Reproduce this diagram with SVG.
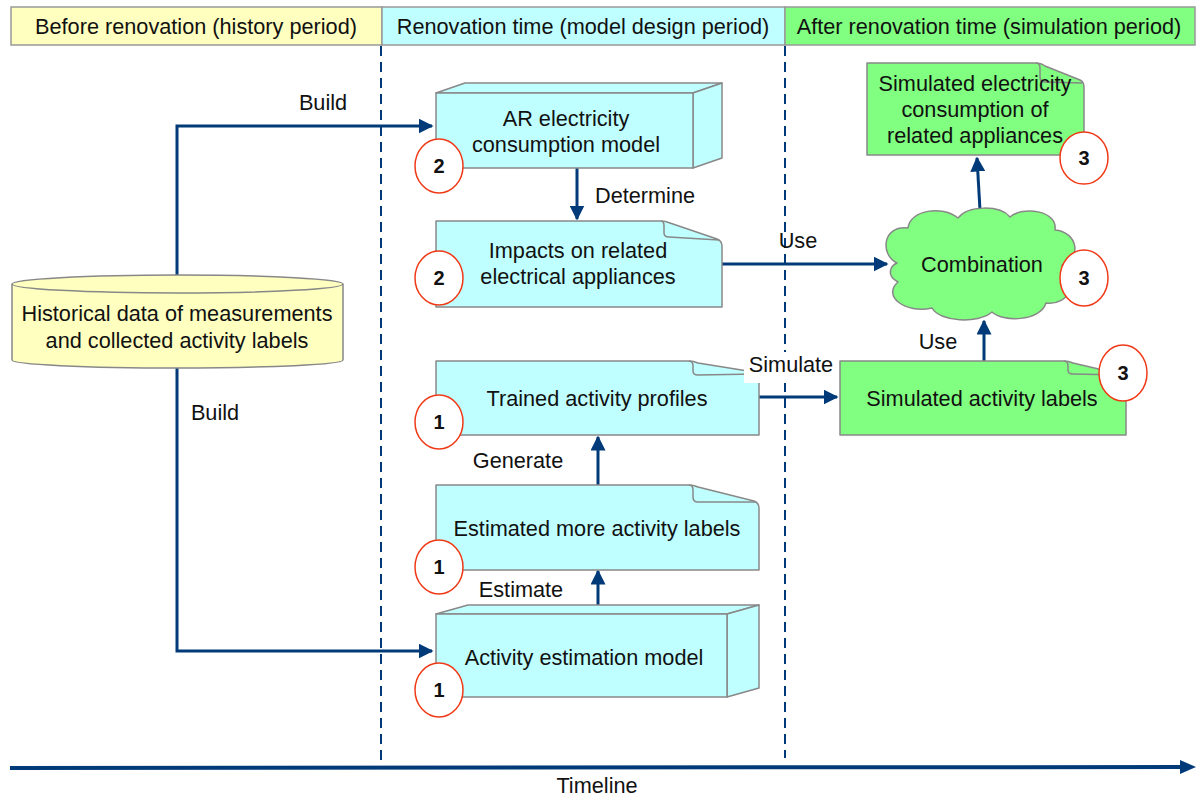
<svg xmlns="http://www.w3.org/2000/svg" width="1198" height="796" viewBox="0 0 1198 796">
<style>
text{font-family:"Liberation Sans",Arial,sans-serif;font-size:21.7px;fill:#111;}
.c{text-anchor:middle;}
.num{font-weight:bold;text-anchor:middle;font-size:20px;}
.hdr{stroke:#999;stroke-width:1.5;}
.node{fill:#c0ffff;stroke:#888;stroke-width:1.5;stroke-linejoin:round;}
.gnode{fill:#80ff80;stroke:#888;stroke-width:1.5;stroke-linejoin:round;}
.fold{fill:none;stroke:#888;stroke-width:1.5;}
.badge{fill:#fff;stroke:#f03a17;stroke-width:1.5;}
.conn{fill:none;stroke:#003a78;stroke-width:3;}
.dash{fill:none;stroke:#003a78;stroke-width:2;stroke-dasharray:10,6;}
</style>
<defs>
<marker id="ah" viewBox="0 0 10 10" refX="9" refY="5" markerWidth="5" markerHeight="5" markerUnits="strokeWidth" orient="auto">
<path d="M0,0 L10,5 L0,10 Z" fill="#003a78"/>
</marker>
</defs>
<rect width="1198" height="796" fill="#fff"/>

<g id="headers">
<rect class="hdr" x="11" y="7" width="371" height="38" fill="#ffffc0"/>
<rect class="hdr" x="382" y="7" width="403" height="38" fill="#c0ffff"/>
<rect class="hdr" x="785" y="7" width="410" height="38" fill="#80ff80"/>
<text class="c" x="196" y="33.5">Before renovation (history period)</text>
<text class="c" x="583" y="33.5">Renovation time (model design period)</text>
<text class="c" x="989" y="33.5">After renovation time (simulation period)</text>
</g>

<g id="dividers">
<line class="dash" x1="381" y1="46" x2="381" y2="768"/>
<line class="dash" x1="785" y1="46" x2="785" y2="758"/>
</g>

<g id="connectors">
<polyline class="conn" points="177,275 177,126 432,126" marker-end="url(#ah)"/>
<polyline class="conn" points="177,367 177,651 432,651" marker-end="url(#ah)"/>
<line class="conn" x1="577" y1="168" x2="577" y2="219" marker-end="url(#ah)"/>
<line class="conn" x1="722" y1="264" x2="887" y2="264" marker-end="url(#ah)"/>
<line class="conn" x1="759" y1="397" x2="837" y2="397" marker-end="url(#ah)"/>
<line class="conn" x1="598" y1="485" x2="598" y2="437" marker-end="url(#ah)"/>
<line class="conn" x1="598" y1="605" x2="598" y2="571" marker-end="url(#ah)"/>
<line class="conn" x1="984" y1="361" x2="984" y2="321" marker-end="url(#ah)"/>
<line class="conn" x1="980" y1="210" x2="977" y2="158" marker-end="url(#ah)"/>
<line x1="10" y1="768" x2="1182" y2="767" stroke="#003a78" stroke-width="4"/>
<path d="M1180,760 L1196,767 L1180,774 Z" fill="#003a78"/>
<text x="323" y="110" class="c">Build</text>
<text x="215" y="420" class="c">Build</text>
<text x="645" y="203" class="c">Determine</text>
<text x="798" y="248" class="c">Use</text>
<text x="518" y="468" class="c">Generate</text>
<text x="521" y="597" class="c">Estimate</text>
<text x="938" y="349" class="c">Use</text>
<text x="597" y="793" class="c">Timeline</text>
</g>

<g id="historical">
<path d="M12,284 L12,360 A165.5,8 0 0 0 343,360 L343,284" fill="#ffffc0" stroke="#888" stroke-width="1.5"/>
<ellipse cx="177.5" cy="284" rx="165.5" ry="9" fill="#ffffc0" stroke="#888" stroke-width="1.5"/>
<text class="c" x="177" y="320.5">Historical data of measurements</text>
<text class="c" x="177" y="347.5">and collected activity labels</text>
</g>

<g id="ar-model">
<path class="node" d="M436,93 L465,83 L722,83 L693,93 Z"/>
<path class="node" d="M693,93 L722,83 L722,158 L693,168 Z"/>
<rect class="node" x="436" y="93" width="257" height="75"/>
<text class="c" x="566" y="125.5">AR electricity</text>
<text class="c" x="566" y="151.5">consumption model</text>
<ellipse class="badge" cx="439" cy="166" rx="24" ry="27"/>
<text class="num" x="439" y="173">2</text>
</g>

<g id="impacts">
<path class="node" d="M436,221 L660,221 Q666,221 670,223 L717,239 Q722,241 722,246 L722,307 L436,307 Z"/>
<path class="fold" d="M661,221 Q664,221 664,226 L664,233 Q664,237 669,237 L719,240"/>
<text class="c" x="578" y="257.5">Impacts on related</text>
<text class="c" x="578" y="283.5">electrical appliances</text>
<ellipse class="badge" cx="439" cy="278" rx="24" ry="27"/>
<text class="num" x="439" y="285">2</text>
</g>

<g id="trained">
<path class="node" d="M436,361 L688,361 Q694,361 698,363 L754,372 Q759,374 759,379 L759,435 L436,435 Z"/>
<path class="fold" d="M689,361 Q693,361 693,366 L693,371 Q693,375 698,375 L756,374"/>
<text class="c" x="597" y="405.5">Trained activity profiles</text>
<ellipse class="badge" cx="439" cy="422" rx="24" ry="27"/>
<text class="num" x="439" y="429">1</text>
</g>

<g id="simulate-label">
<rect x="744" y="352" width="94" height="31" fill="#fff"/>
<text class="c" x="791" y="372">Simulate</text>
</g>

<g id="estimated">
<path class="node" d="M436,485 L688,485 Q694,485 698,487 L754,501 Q759,503 759,508 L759,570 L436,570 Z"/>
<path class="fold" d="M689,485 Q693,485 693,490 L693,497 Q693,502 698,502 L756,502"/>
<text class="c" x="597" y="535.5">Estimated more activity labels</text>
<ellipse class="badge" cx="439" cy="567" rx="24" ry="27"/>
<text class="num" x="439" y="574">1</text>
</g>

<g id="activity-model">
<path class="node" d="M436,614 L468,605 L759,605 L727,614 Z"/>
<path class="node" d="M727,614 L759,605 L759,688 L727,697 Z"/>
<rect class="node" x="436" y="614" width="291" height="83"/>
<text class="c" x="584" y="664.5">Activity estimation model</text>
<ellipse class="badge" cx="439" cy="690" rx="24" ry="27"/>
<text class="num" x="439" y="697">1</text>
</g>

<g id="sim-consumption">
<path class="gnode" d="M867,63 L1035,63 Q1041,63 1045,66 L1080,80 Q1084,82 1084,87 L1084,155 L867,155 Z"/>
<path class="fold" d="M1036,63 Q1040,63 1040,68 L1040,77 Q1040,82 1045,82 L1082,83"/>
<text class="c" x="975" y="90.5">Simulated electricity</text>
<text class="c" x="975" y="116.5">consumption of</text>
<text class="c" x="975" y="142.5">related appliances</text>
<ellipse class="badge" cx="1084" cy="158" rx="24" ry="26"/>
<text class="num" x="1084" y="165">3</text>
</g>

<g id="combination">
<path class="gnode" d="M897,263 C880,255 882,225 908,228 C910,210 942,205 958,218 C968,205 1000,205 1010,217 C1022,206 1058,210 1055,230 C1078,232 1082,258 1062,265 C1080,280 1070,306 1046,303 C1040,322 1002,322 992,312 C978,324 940,322 932,308 C905,314 882,296 898,282 C886,276 890,266 897,263 Z"/>
<text class="c" x="982" y="271.5">Combination</text>
<ellipse class="badge" cx="1084" cy="278" rx="24" ry="28"/>
<text class="num" x="1084" y="285">3</text>
</g>

<g id="sim-activity">
<path class="gnode" d="M840,361 L1063,361 Q1069,361 1073,363 L1120,374 Q1126,376 1126,381 L1126,435 L840,435 Z"/>
<path class="fold" d="M1064,361 Q1068,361 1068,366 L1068,370 Q1068,374 1073,374 L1122,375"/>
<text class="c" x="982" y="405.5">Simulated activity labels</text>
<ellipse class="badge" cx="1123" cy="373" rx="24" ry="28"/>
<text class="num" x="1123" y="380">3</text>
</g>
</svg>
